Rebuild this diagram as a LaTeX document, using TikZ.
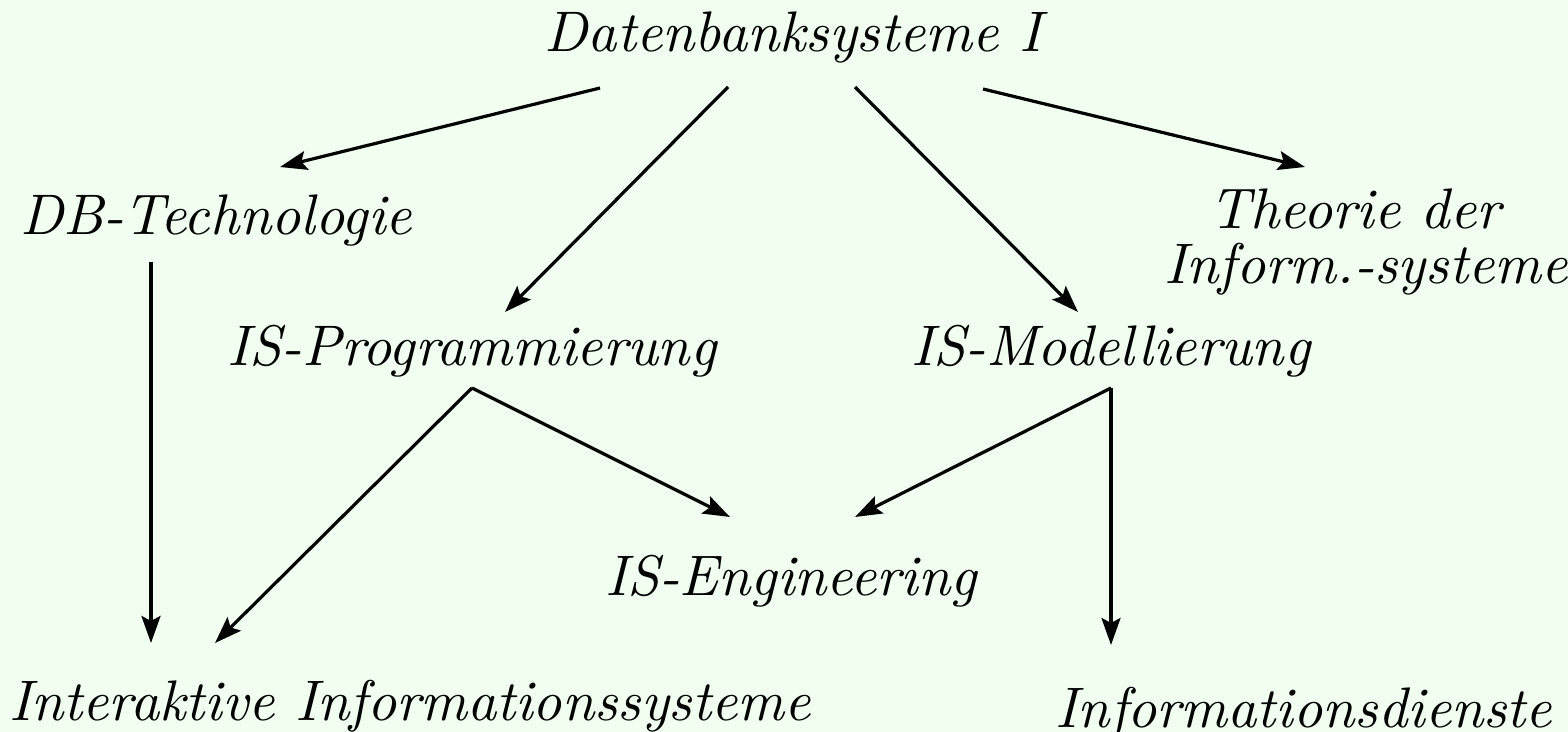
\documentclass[tikz,border=0pt]{standalone}
\usepackage{fontspec}
\setmainfont{lmroman10-regular.otf}[ItalicFont=lmroman10-italic.otf]
\usetikzlibrary{arrows.meta}
\definecolor{bg}{RGB}{240,255,240}
\begin{document}
\begin{tikzpicture}[x=0.5pt,y=-0.5pt,
  lbl/.style={inner sep=0pt,outer sep=0pt,anchor=base,font=\fontsize{28.6}{27.5}\selectfont\itshape},
  arr/.style={line width=1.6pt,-{Stealth[length=13.5pt,width=9.5pt,inset=2.5pt]}}]
\fill[bg] (0,0) rectangle (1568,732);
\useasboundingbox (0,0) rectangle (1568,732);
\node[lbl] (dbs) at (793,52) {Datenbanksysteme I};
\node[lbl] (dbt) at (216,235) {DB-Technologie};
\node[lbl,anchor=north,align=center] (theo) at (1366,189) {Theorie der\kern11pt\\Inform.-systeme};
\node[lbl] (isp) at (472,365) {IS-Programmierung};
\node[lbl] (ism) at (1111,365) {IS-Modellierung};
\node[lbl] (ise) at (791,595) {IS-Engineering};
\node[lbl] (iai) at (410,720) {Interaktive Informationssysteme};
\node[lbl] (ids) at (1304,727) {Informationsdienste};
\draw[arr] ([shift={(-193,36)}]dbs.base) -- ([shift={(64,-68)}]dbt.base);
\draw[arr] ([shift={(-65,35)}]dbs.base) -- ([shift={(33,-53)}]isp.base);
\draw[arr] ([shift={(62,35)}]dbs.base) -- ([shift={(-33,-53)}]ism.base);
\draw[arr] ([shift={(190,37)}]dbs.base) -- ([shift={(-61,-22)}]theo.north);
\draw[arr] ([shift={(-65,27)}]dbt.base) -- ([shift={(-259,-77)}]iai.base);
\draw[arr] ([shift={(0,23)}]isp.base) -- ([shift={(-195,-77)}]iai.base);
\draw[arr] ([shift={(0,23)}]isp.base) -- ([shift={(-61,-78)}]ise.base);
\draw[arr] ([shift={(0,23)}]ism.base) -- ([shift={(64,-78)}]ise.base);
\draw[arr] ([shift={(0,23)}]ism.base) -- ([shift={(-193,-82)}]ids.base);
\end{tikzpicture}
\end{document}
